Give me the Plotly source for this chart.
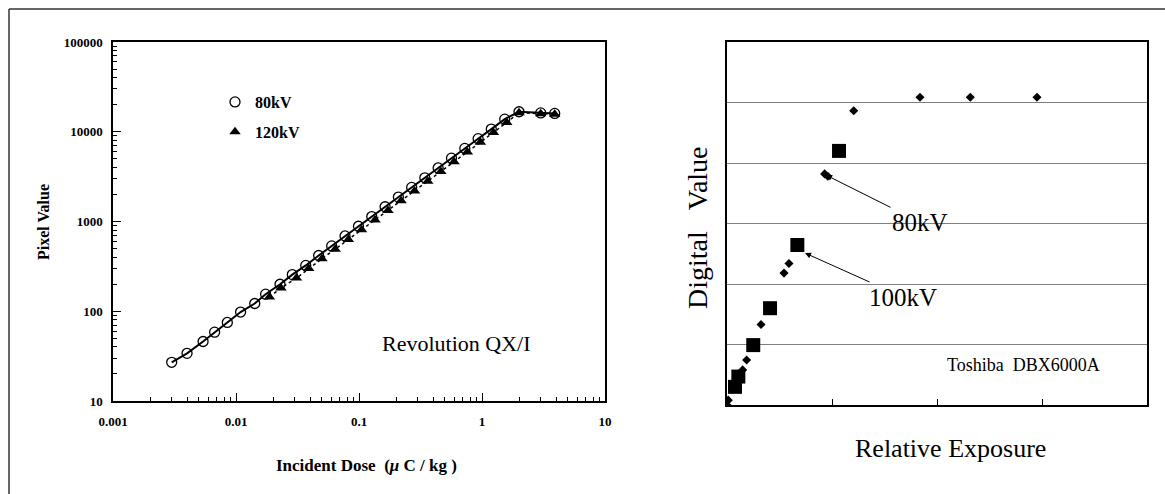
import plotly.graph_objects as go

# ---------------- Left chart data (Revolution QX/I) ----------------
dose_80kv = [0.003, 0.0040, 0.0054, 0.0067, 0.0085, 0.0109, 0.0142, 0.0174, 0.0228, 0.0287, 0.0369,
             0.047, 0.060, 0.077, 0.099, 0.127, 0.163, 0.209, 0.268, 0.343, 0.44, 0.565, 0.725,
             0.93, 1.19, 1.53, 2.0, 3.0, 3.9]
pixel_80kv = [27, 34, 46, 58.5, 75, 98, 122, 155, 200, 256, 324,
              418, 535, 690, 885, 1135, 1460, 1870, 2400, 3070, 3950, 5080, 6520,
              8370, 10700, 13800, 16700, 16200, 16000]

dose_120kv = [0.0187, 0.0232, 0.031, 0.039, 0.050, 0.064, 0.082, 0.105, 0.135, 0.172, 0.22,
              0.283, 0.362, 0.463, 0.593, 0.76, 0.97, 1.24, 1.59, 2.0, 3.0, 3.9]
pixel_120kv = [144, 182, 234, 300, 385, 492, 630, 808, 1040, 1325, 1700,
               2180, 2800, 3600, 4620, 5950, 7650, 9800, 12700, 16300, 15900, 15700]

x_tick_vals = [0.001, 0.01, 0.1, 1, 10]
x_tick_text = ["0.001", "0.01", "0.1", "1", "10"]
y_tick_vals = [10, 100, 1000, 10000, 100000]
y_tick_text = ["10", "100", "1000", "10000", "100000"]

# ---------------- Right chart data (Toshiba DBX6000A) ----------------
exposure_80kv = [0.0, 0.012, 0.149, 0.187, 0.324, 0.543, 0.59, 0.93, 0.96, 1.207, 1.838, 2.317, 2.952]
digital_80kv = [0.0, 0.08, 0.58, 0.744, 1.33, 2.18, 2.34, 3.82, 3.78, 4.864, 5.086, 5.086, 5.086]
exposure_100kv = [0.076, 0.108, 0.25, 0.41, 0.67, 1.067]
digital_100kv = [0.30, 0.47, 0.99, 1.60, 2.645, 4.20]

SERIF = "Liberation Serif, Times New Roman, serif"
W, H = 1165, 494

fig = go.Figure()

# Left chart traces
fig.add_trace(go.Scatter(x=dose_120kv, y=pixel_120kv, mode="lines",
                         line=dict(color="black", width=1.5, dash="dot"),
                         showlegend=False, xaxis="x", yaxis="y", hoverinfo="skip"))
fig.add_trace(go.Scatter(x=dose_80kv, y=pixel_80kv, mode="lines",
                         line=dict(color="black", width=2),
                         showlegend=False, xaxis="x", yaxis="y", hoverinfo="skip"))
fig.add_trace(go.Scatter(x=dose_80kv, y=pixel_80kv, mode="markers", name="80kV",
                         marker=dict(symbol="circle-open", size=10, color="black",
                                     line=dict(width=1.3, color="black")),
                         legendgroup="a", xaxis="x", yaxis="y"))
fig.add_trace(go.Scatter(x=dose_120kv, y=pixel_120kv, mode="markers", name="120kV",
                         marker=dict(symbol="triangle-up", size=10, color="black"),
                         legendgroup="b", xaxis="x", yaxis="y"))

# Right chart traces
fig.add_trace(go.Scatter(x=exposure_80kv, y=digital_80kv, mode="markers", name="80kV diamonds",
                         marker=dict(symbol="diamond", size=7, color="black"),
                         showlegend=False, xaxis="x2", yaxis="y2"))
fig.add_trace(go.Scatter(x=exposure_100kv, y=digital_100kv, mode="markers", name="100kV squares",
                         marker=dict(symbol="square", size=14, color="black"),
                         showlegend=False, xaxis="x2", yaxis="y2"))

minor_x = [m * 10 ** e for e in range(-3, 1) for m in range(2, 10)]
minor_y = [m * 10 ** e for e in range(1, 5) for m in range(2, 10)]

bold_tick = dict(family=SERIF, size=13, color="black", weight="bold")

fig.update_layout(
    width=W, height=H,
    margin=dict(l=0, r=0, t=0, b=0, pad=0, autoexpand=False),
    paper_bgcolor="white", plot_bgcolor="white",
    showlegend=True,
    legend=dict(x=215 / W, y=1 - 85 / H, xanchor="left", yanchor="top",
                font=dict(family=SERIF, size=16, color="black", weight="bold"),
                bgcolor="rgba(0,0,0,0)", tracegroupgap=6, itemwidth=30),
    xaxis=dict(type="log", range=[-3, 1], domain=[113 / W, 605 / W], anchor="y",
               automargin=False,
               showline=True, linecolor="black", linewidth=1.5, mirror=True,
               showgrid=False, zeroline=False,
               ticks="inside", ticklen=8, tickcolor="black", tickwidth=1,
               tickmode="array", tickvals=x_tick_vals, ticktext=x_tick_text,
               tickfont=bold_tick, ticklabelstandoff=8,
               minor=dict(tickmode="array", tickvals=minor_x, ticks="inside",
                          ticklen=4, tickcolor="black", showgrid=False)),
    yaxis=dict(type="log", range=[1, 5], domain=[1 - 401 / H, 1 - 42 / H], anchor="x",
               automargin=False,
               showline=True, linecolor="black", linewidth=1.5, mirror=True,
               showgrid=False, zeroline=False,
               ticks="inside", ticklen=8, tickcolor="black", tickwidth=1,
               tickmode="array", tickvals=y_tick_vals, ticktext=y_tick_text,
               tickfont=bold_tick, ticklabelstandoff=6,
               minor=dict(tickmode="array", tickvals=minor_y, ticks="inside",
                          ticklen=4, tickcolor="black", showgrid=False)),
    xaxis2=dict(range=[0, 4], domain=[727 / W, 1147 / W], anchor="y2",
                automargin=False,
                showline=True, linecolor="black", linewidth=1.5, mirror=True,
                showgrid=False, zeroline=False,
                ticks="inside", ticklen=6, tickcolor="black",
                tickmode="array", tickvals=[1, 2, 3], showticklabels=False),
    yaxis2=dict(range=[0, 6], domain=[1 - 405 / H, 1 - 42 / H], anchor="x2",
                automargin=False,
                showline=True, linecolor="black", linewidth=1.5, mirror=True,
                showgrid=True, gridcolor="#808080", gridwidth=1, zeroline=False,
                ticks="", dtick=1, showticklabels=False),
)


def txt(text, x, y, size, bold=False, angle=0):
    f = dict(family=SERIF, size=size, color="black")
    if bold:
        f["weight"] = "bold"
    return dict(text=text, x=x / W, y=1 - y / H, xref="paper", yref="paper",
                xanchor="center", yanchor="middle", textangle=angle,
                showarrow=False, font=f)


ann = [
    txt("Pixel Value", 43, 222, 16, bold=True, angle=-90),
    txt("Incident Dose  (<i>μ</i> C / kg )", 366, 465, 17, bold=True),
    txt("Revolution QX/I", 456, 343, 22),
    txt("Digital\u00a0\u00a0\u00a0Value", 697, 228, 28, angle=-90),
    txt("Relative Exposure", 950, 448, 26),
    txt("Toshiba\u00a0\u00a0DBX6000A", 1023, 365, 18),
    dict(text="80kV", x=0.943, y=3.80, xref="x2", yref="y2", ax=94, ay=47,
         showarrow=True, arrowhead=2, arrowsize=1.2, arrowwidth=1, arrowcolor="black",
         font=dict(family=SERIF, size=25, color="black")),
    dict(text="100kV", x=0.743, y=2.512, xref="x2", yref="y2", ax=98, ay=44,
         showarrow=True, arrowhead=2, arrowsize=1.2, arrowwidth=1, arrowcolor="black",
         font=dict(family=SERIF, size=25, color="black")),
]
fig.update_layout(annotations=ann)

# Outer frame of the figure page
fig.update_layout(shapes=[
    dict(type="line", xref="paper", yref="paper", x0=9 / W, x1=1, y0=1 - 9 / H, y1=1 - 9 / H,
         line=dict(color="#333333", width=1.5)),
    dict(type="line", xref="paper", yref="paper", x0=9 / W, x1=9 / W, y0=0, y1=1 - 9 / H,
         line=dict(color="#333333", width=1.5)),
])

fig.write_html("out.html")
